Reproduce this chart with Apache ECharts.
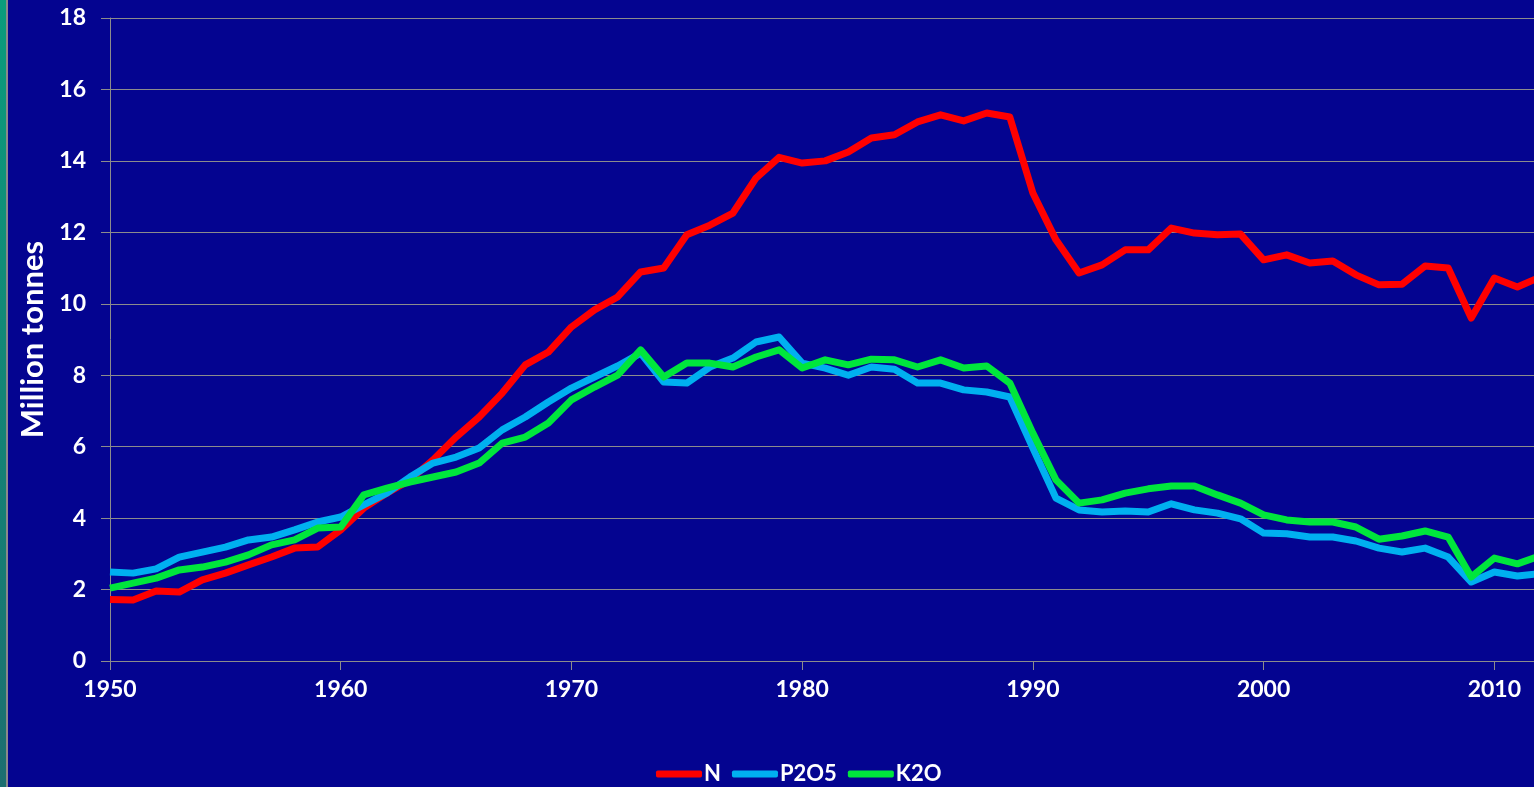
<!DOCTYPE html>
<html>
<head>
<meta charset="utf-8">
<script src="https://cdn.jsdelivr.net/npm/echarts@6/dist/echarts.min.js"></script>
<style>
  html, body { margin: 0; padding: 0; background: #040490; }
  #chart { width: 1534px; height: 787px; }
</style>
</head>
<body>
<div id="chart"></div>
<script>
// years on the x axis
const years = [1950, 1951, 1952, 1953, 1954, 1955, 1956, 1957, 1958, 1959,
  1960, 1961, 1962, 1963, 1964, 1965, 1966, 1967, 1968, 1969,
  1970, 1971, 1972, 1973, 1974, 1975, 1976, 1977, 1978, 1979,
  1980, 1981, 1982, 1983, 1984, 1985, 1986, 1987, 1988, 1989,
  1990, 1991, 1992, 1993, 1994, 1995, 1996, 1997, 1998, 1999,
  2000, 2001, 2002, 2003, 2004, 2005, 2006, 2007, 2008, 2009,
  2010, 2011, 2012]

// million tonnes
const nValues = [1.72, 1.71, 1.96, 1.93, 2.27, 2.46, 2.69, 2.91, 3.16, 3.19,
  3.67, 4.28, 4.70, 5.07, 5.63, 6.27, 6.83, 7.50, 8.29, 8.65,
  9.35, 9.83, 10.19, 10.89, 11.00, 11.93, 12.20, 12.54, 13.52, 14.10,
  13.94, 14.00, 14.25, 14.64, 14.73, 15.09, 15.29, 15.12, 15.34, 15.23,
  13.10, 11.79, 10.86, 11.09, 11.51, 11.51, 12.12, 11.98, 11.93, 11.95,
  11.23, 11.37, 11.14, 11.20, 10.81, 10.53, 10.55, 11.06, 11.00, 9.60,
  10.72, 10.47, 10.75]

const p2o5Values = [2.49, 2.46, 2.58, 2.91, 3.05, 3.19, 3.39, 3.47, 3.67, 3.89,
  4.03, 4.37, 4.70, 5.15, 5.54, 5.71, 5.96, 6.47, 6.83, 7.25,
  7.64, 7.95, 8.26, 8.62, 7.81, 7.78, 8.23, 8.48, 8.93, 9.07,
  8.34, 8.20, 8.00, 8.23, 8.17, 7.78, 7.78, 7.59, 7.53, 7.39,
  5.96, 4.56, 4.23, 4.17, 4.20, 4.17, 4.40, 4.23, 4.14, 3.98,
  3.58, 3.56, 3.47, 3.47, 3.36, 3.16, 3.05, 3.16, 2.91, 2.21,
  2.49, 2.38, 2.45]

const k2oValues = [2.04, 2.18, 2.32, 2.55, 2.63, 2.77, 2.97, 3.25, 3.39, 3.72,
  3.75, 4.65, 4.84, 5.01, 5.15, 5.29, 5.54, 6.10, 6.27, 6.66,
  7.31, 7.67, 8.00, 8.71, 7.95, 8.34, 8.34, 8.23, 8.51, 8.71,
  8.20, 8.43, 8.29, 8.45, 8.43, 8.23, 8.43, 8.20, 8.26, 7.78,
  6.38, 5.07, 4.42, 4.51, 4.70, 4.82, 4.90, 4.90, 4.65, 4.42,
  4.09, 3.95, 3.89, 3.89, 3.75, 3.41, 3.50, 3.64, 3.47, 2.35,
  2.88, 2.72, 2.95]

const seriesNames = ['N', 'P2O5', 'K2O']
const seriesColors = ['#ff0000', '#00b0f0', '#00e63c']

const pair = vals => years.map((y, i) => [y, vals[i]])

const myChart = echarts.init(document.getElementById('chart'))

const font = 'Lato, "Open Sans", sans-serif'
const gridGray = '#8c8c8c'

const option = {
  backgroundColor: '#040490',
  animation: false,
  textStyle: { fontFamily: font },
  // 左侧绿色边条
  graphic: [
    {
      type: 'rect',
      left: 0, top: 0,
      shape: { width: 6, height: 787 },
      style: {
        fill: new echarts.graphic.LinearGradient(0, 0, 0, 1, [
          { offset: 0, color: '#0a9c7c' },
          { offset: 1, color: '#1c6e70' }
        ])
      }
    },
    {
      type: 'rect',
      left: 6, top: 0,
      shape: { width: 2, height: 787 },
      style: { fill: '#8a8a8a' }
    }
  ],
  grid: {
    left: 110,
    right: 0,
    top: 18,
    bottom: 126
  },
  legend: {
    left: 651,
    top: 758,
    itemWidth: 46,
    itemHeight: 7,
    itemGap: 11,
    icon: 'roundRect',
    textStyle: {
      color: '#ffffff',
      fontWeight: 'bold',
      fontSize: 22,
      fontFamily: font,
      padding: [0, 0, 0, -3]
    },
    data: seriesNames
  },
  xAxis: {
    type: 'value',
    min: 1950,
    max: 2011.72,
    interval: 10,
    axisLine: { show: true, lineStyle: { color: gridGray, width: 1 } },
    axisTick: { show: true, length: 9, lineStyle: { color: gridGray } },
    splitLine: { show: false },
    axisLabel: {
      color: '#ffffff',
      fontWeight: 'bold',
      fontSize: 23,
      margin: 17,
      showMaxLabel: false,
      formatter: v => (v % 10 === 0 ? String(v) : '')
    }
  },
  yAxis: {
    type: 'value',
    min: 0,
    max: 18,
    interval: 2,
    name: 'Million tonnes',
    nameLocation: 'middle',
    nameGap: 60,
    nameTextStyle: {
      color: '#ffffff',
      fontWeight: 'bold',
      fontSize: 31,
      fontFamily: font
    },
    axisLine: { show: true, lineStyle: { color: gridGray, width: 1 } },
    axisTick: { show: true, length: 9, lineStyle: { color: gridGray } },
    splitLine: { show: true, lineStyle: { color: gridGray, width: 1 } },
    axisLabel: {
      color: '#ffffff',
      fontWeight: 'bold',
      fontSize: 23,
      margin: 24
    }
  },
  series: seriesNames.map((name, i) => ({
    name,
    type: 'line',
    data: pair([nValues, p2o5Values, k2oValues][i]),
    showSymbol: false,
    symbol: 'none',
    clip: true,
    color: seriesColors[i],
    lineStyle: { width: 7, color: seriesColors[i], join: 'round' }
  }))
}

myChart.setOption(option)
</script>
</body>
</html>
